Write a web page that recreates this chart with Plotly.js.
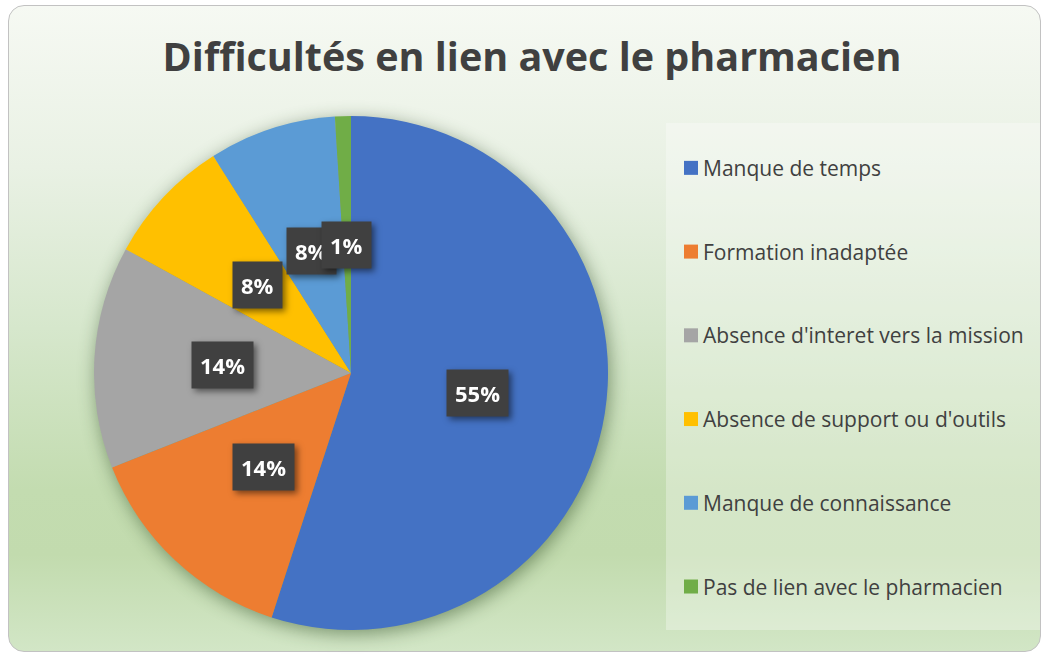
<!DOCTYPE html>
<html>
<head>
<meta charset="utf-8">
<script src="https://cdn.plot.ly/plotly-3.0.1.min.js"></script>
<style>
  html, body { margin: 0; padding: 0; background: #ffffff; }
  #wrap { position: relative; width: 1044px; height: 655px; }
  #bg {
    position: absolute; left: 8px; top: 5px; width: 1031px; height: 645px;
    border: 1.5px solid #c2c2c2; border-radius: 16px;
    background: linear-gradient(to bottom, #f6f9f3 0%, #e9f1e4 25%, #d6e7cc 50%, #c3dcb0 75%, #c2dbae 85%, #d2e6c6 100%);
  }
  #chart { position: absolute; left: 0; top: 0; width: 1044px; height: 655px; }
  #chart .pielayer .trace { filter: drop-shadow(2px 4px 9px rgba(20,50,10,0.45)); }
  #chart .annotation-text-g { filter: drop-shadow(3px 3px 3px rgba(0,0,0,0.5)); }
  #chart .legend .legendpie { d: path("M7,7H-7V-7H7Z"); transform: translate(28px, 0px); }
</style>
</head>
<body>
<div id="wrap">
  <div id="bg"></div>
  <div id="chart"></div>
</div>
<script>
// ---- data ----
const categories = [
  "Manque de temps",
  "Formation inadaptée",
  "Absence d'interet vers la mission",
  "Absence de support ou d'outils",
  "Manque de connaissance",
  "Pas de lien avec le pharmacien"
];
const values = [55, 14, 14, 8, 8, 1];
const colors = ["#4472C4", "#ED7D31", "#A5A5A5", "#FFC000", "#5B9BD5", "#70AD47"];
const chartTitle = "Difficultés en lien avec le pharmacien";

// ---- layout geometry ----
const W = 1044, H = 655;
const domX = [94 / W, 608 / W];
const domY = [1 - 630 / H, 1 - 116 / H];

// legend labels: padded lines to space the entries like the original
const NB = "\u00A0";
const legendLabels = categories.map(c => NB + "<br><span style='font-size:21px'>" + c + "</span><br>" + NB);

const trace = {
  type: "pie",
  labels: legendLabels,
  values: values,
  sort: false,
  direction: "clockwise",
  rotation: 0,
  marker: { colors: colors, line: { width: 0 } },
  textinfo: "none",
  hovertemplate: "%{value} (%{percent})<extra></extra>",
  domain: { x: domX, y: domY },
  showlegend: true
};

// label boxes at half radius along each slice's mid angle
const total = values.reduce((a, b) => a + b, 0);
const cxPx = (domX[0] + domX[1]) / 2 * W;
const cyPx = (1 - (domY[0] + domY[1]) / 2) * H;
const R = Math.min((domX[1] - domX[0]) * W, (domY[1] - domY[0]) * H) / 2;
let cum = 0;
const annotations = values.map((v, i) => {
  const mid = (cum + v / 2) / total * 2 * Math.PI;
  cum += v;
  const px = cxPx + 0.5 * R * Math.sin(mid);
  const py = cyPx - 0.5 * R * Math.cos(mid);
  return {
    xref: "paper", yref: "paper",
    x: px / W, y: 1 - py / H,
    xanchor: "center", yanchor: "middle",
    text: "<b>" + Math.round(100 * v / total) + "%</b>",
    showarrow: false,
    bgcolor: "#404040",
    borderpad: 8,
    font: { family: "Open Sans", size: 22, color: "#ffffff" }
  };
});

const layout = {
  width: W, height: H,
  margin: { l: 0, r: 0, t: 0, b: 0 },
  paper_bgcolor: "rgba(0,0,0,0)",
  plot_bgcolor: "rgba(0,0,0,0)",
  title: {
    text: "<b>" + chartTitle + "</b>",
    x: 532 / W, xanchor: "center",
    y: 1 - 57 / H, yanchor: "middle",
    font: { family: "Open Sans", size: 39.5, color: "#404040" }
  },
  showlegend: true,
  legend: {
    x: 663 / W, xanchor: "left",
    y: 1 - 121 / H, yanchor: "top",
    bgcolor: "rgba(0,0,0,0)",
    font: { family: "Open Sans", size: 20.7, color: "#404040" }
  },
  shapes: [{
    type: "rect", xref: "paper", yref: "paper", layer: "below",
    x0: 666 / W, x1: 1040 / W, y0: 1 - 630 / H, y1: 1 - 123 / H,
    fillcolor: "rgba(255,255,255,0.3)", line: { width: 0 }
  }],
  annotations: annotations
};

Plotly.newPlot("chart", [trace], layout, { displayModeBar: false });
</script>
</body>
</html>
